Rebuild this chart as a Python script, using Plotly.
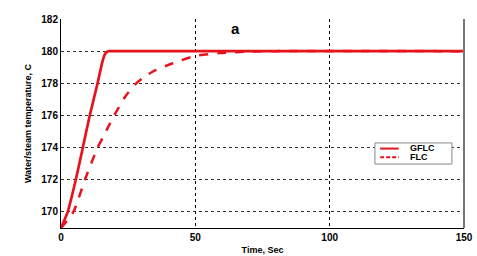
import plotly.graph_objects as go

# GFLC response (time in s, temperature in C)
gflc_t = [0, 2.5, 5.5, 8, 10.7, 13.6, 15.5, 16.5, 17.5, 20, 150]
gflc_y = [169.0, 170.0, 172.0, 173.9, 176.0, 178.0, 179.4, 179.85, 180.0, 180.0, 180.0]

# FLC response
flc_t = [0, 4.6, 8.9, 13.6, 15.5, 17, 19.8, 24, 28, 31, 35, 41.6, 50, 59, 70, 80, 150]
flc_y = [169.0, 170.0, 172.0, 174.0, 174.6, 175.1, 176.0, 177.2, 178.0, 178.4, 178.8,
         179.25, 179.7, 179.88, 179.97, 180.0, 180.0]

series_names = ["GFLC", "FLC"]
x_ticks = [0, 50, 100, 150]
y_ticks = [170, 172, 174, 176, 178, 180, 182]

red = "#e8121c"
fontfam = "Liberation Sans, Arial, sans-serif"

fig = go.Figure()
fig.add_trace(go.Scatter(x=gflc_t, y=gflc_y, mode="lines", name=series_names[0],
                         line=dict(color=red, width=2.7, shape="spline", smoothing=0.4)))
fig.add_trace(go.Scatter(x=flc_t, y=flc_y, mode="lines", name=series_names[1],
                         line=dict(color=red, width=2.5, dash="dash", shape="spline", smoothing=0.6)))

fig.update_layout(
    width=477, height=256,
    margin=dict(l=61, r=13, t=19, b=28, autoexpand=False),
    paper_bgcolor="white", plot_bgcolor="white",
    font=dict(family=fontfam, size=10, color="black"),
    showlegend=False,
    xaxis=dict(range=[0, 150], tickvals=x_ticks, ticktext=[f"<b>{v}</b>" for v in x_ticks],
               showgrid=True, gridcolor="black", griddash="dot", gridwidth=1,
               showline=True, linecolor="black", linewidth=1, mirror=False,
               ticks="", zeroline=False, tickfont=dict(size=10), automargin=False,
               title=dict(text="<b>Time, Sec</b>", font=dict(size=9), standoff=4)),
    yaxis=dict(range=[169, 182], tickvals=y_ticks, ticktext=[f"<b>{v}</b>" for v in y_ticks],
               showgrid=True, gridcolor="#333333", griddash="3px,3px", gridwidth=1,
               showline=True, linecolor="black", linewidth=1, mirror=False,
               ticks="", zeroline=False, tickfont=dict(size=10), automargin=False,
               title=dict(text="<b>Water/steam temperature, C</b>",
                          font=dict(size=9), standoff=8)),
)

# right border (gray)
fig.add_shape(type="line", xref="paper", yref="paper", x0=1, x1=1, y0=0, y1=1,
              line=dict(color="#777777", width=2))

# legend box (drawn manually to match the compact original)
fig.add_shape(type="rect", xref="paper", yref="paper", x0=0.779, x1=0.970, y0=0.306, y1=0.407,
              line=dict(color="#888888", width=1), fillcolor="white", layer="above")
fig.add_shape(type="line", xref="paper", yref="paper", x0=0.792, x1=0.838, y0=0.380, y1=0.380,
              line=dict(color=red, width=2), layer="above")
fig.add_shape(type="line", xref="paper", yref="paper", x0=0.792, x1=0.838, y0=0.338, y1=0.338,
              line=dict(color=red, width=2, dash="4px,2px"), layer="above")
fig.add_annotation(text=f"<b>{series_names[0]}</b>", xref="paper", yref="paper", x=0.862, y=0.382,
                   xanchor="left", yanchor="middle", showarrow=False, font=dict(size=9, family=fontfam))
fig.add_annotation(text=f"<b>{series_names[1]}</b>", xref="paper", yref="paper", x=0.862, y=0.338,
                   xanchor="left", yanchor="middle", showarrow=False, font=dict(size=9, family=fontfam))

fig.add_annotation(text="<b>a</b>", xref="x", yref="paper", x=65, y=0.955, yanchor="middle",
                   showarrow=False, font=dict(size=15, family=fontfam))

fig.write_html("out.html", config={"displayModeBar": False},
               post_script="document.body.style.margin='0';")
